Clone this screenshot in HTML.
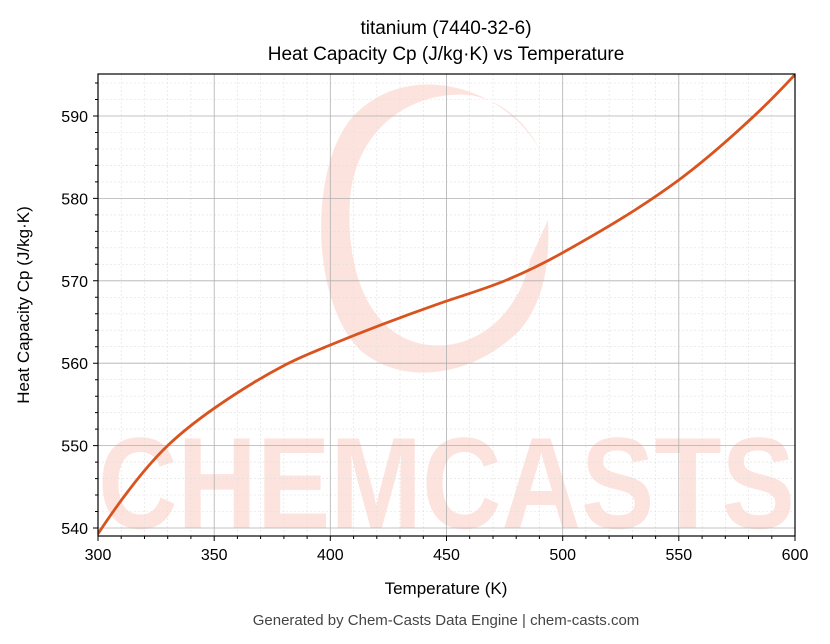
<!DOCTYPE html>
<html><head><meta charset="utf-8"><style>
html,body{margin:0;padding:0;background:#fff;}
svg{display:block;font-family:"Liberation Sans","DejaVu Sans",sans-serif;}
</style></head><body>
<svg width="830" height="644" viewBox="0 0 830 644" xmlns="http://www.w3.org/2000/svg">
<rect width="830" height="644" fill="#fff"/>
<defs><clipPath id="c"><rect x="98" y="74" width="697" height="462"/></clipPath></defs>
<g clip-path="url(#c)">
<g fill="#fde3de">
<path d="M540,150 C500,80 400,60 350,120 C310,170 310,300 360,350 C400,385 470,380 520,330 C545,300 550,260 548,220 L530,260 C520,310 480,350 430,345 C375,340 345,280 350,200 C355,130 410,90 470,95 C500,100 525,120 540,150 Z"/>
<text x="98" y="528" font-size="130" font-weight="bold" textLength="697" lengthAdjust="spacingAndGlyphs">CHEMCASTS</text>
</g>
<path stroke="#e0e0e0" stroke-width="0.6" stroke-dasharray="2,2" fill="none" d="
M121.2,74V536M144.5,74V536M167.7,74V536M190.9,74V536
M237.4,74V536M260.6,74V536M283.9,74V536M307.1,74V536
M353.6,74V536M376.8,74V536M400,74V536M423.3,74V536
M469.7,74V536M493,74V536M516.2,74V536M539.4,74V536
M585.9,74V536M609.1,74V536M632.4,74V536M655.6,74V536
M702.1,74V536M725.3,74V536M748.5,74V536M771.8,74V536
M98,511.5H795M98,495H795M98,478.6H795M98,462.1H795
M98,429.1H795M98,412.6H795M98,396.2H795M98,379.7H795
M98,346.7H795M98,330.2H795M98,313.8H795M98,297.3H795
M98,264.3H795M98,247.8H795M98,231.4H795M98,214.9H795
M98,181.9H795M98,165.4H795M98,149H795M98,132.5H795
M98,99.5H795M98,83H795"/>
<path stroke="#b0b0b0" stroke-width="0.8" fill="none" d="
M214.2,74V536M330.3,74V536M446.5,74V536M562.7,74V536M678.8,74V536
M98,528H795M98,445.6H795M98,363.2H795M98,280.8H795M98,198.4H795M98,116H795"/>
<path fill="none" stroke="#d9531e" stroke-width="2.8" stroke-linecap="round" d="M98.3,533.3
C121.6,498.3 145,467.2 168.3,445
C183.6,430.5 198.9,419 214.2,408.3
C237.8,391.8 261.4,377.3 285,365
C300.1,357.1 315.2,351.2 330.3,345
C366.9,330 403.4,316.1 440,303.3
C462.2,295.5 484.5,289.3 506.7,280
C525.4,272.2 544,263.2 562.7,252.7
C601.4,231 640.1,208.6 678.8,180
C703.6,161.6 728.5,139.8 753.3,116.7
C767.2,103.8 781.1,89.6 795,74.6"/>
</g>
<rect x="98" y="74" width="697" height="462" fill="none" stroke="#000" stroke-width="1.2"/>
<path stroke="#000" stroke-width="1" fill="none" d="
M98,536v5M214.2,536v5M330.3,536v5M446.5,536v5M562.7,536v5M678.8,536v5M795,536v5
M121.2,536v3M144.5,536v3M167.7,536v3M190.9,536v3M237.4,536v3M260.6,536v3M283.9,536v3M307.1,536v3
M353.6,536v3M376.8,536v3M400,536v3M423.3,536v3M469.7,536v3M493,536v3M516.2,536v3M539.4,536v3
M585.9,536v3M609.1,536v3M632.4,536v3M655.6,536v3M702.1,536v3M725.3,536v3M748.5,536v3M771.8,536v3
M93,528h5M93,445.6h5M93,363.2h5M93,280.8h5M93,198.4h5M93,116h5
M95,511.5h3M95,495h3M95,478.6h3M95,462.1h3M95,429.1h3M95,412.6h3M95,396.2h3M95,379.7h3
M95,346.7h3M95,330.2h3M95,313.8h3M95,297.3h3M95,264.3h3M95,247.8h3M95,231.4h3M95,214.9h3
M95,181.9h3M95,165.4h3M95,149h3M95,132.5h3M95,99.5h3M95,83h3"/>
<g font-size="16" fill="#000" text-anchor="middle">
<text x="98" y="560">300</text><text x="214.2" y="560">350</text><text x="330.3" y="560">400</text>
<text x="446.5" y="560">450</text><text x="562.7" y="560">500</text><text x="678.8" y="560">550</text><text x="795" y="560">600</text>
</g>
<g font-size="16" fill="#000" text-anchor="end">
<text x="88" y="534">540</text><text x="88" y="451.6">550</text><text x="88" y="369.2">560</text>
<text x="88" y="286.8">570</text><text x="88" y="204.4">580</text><text x="88" y="122">590</text>
</g>
<text x="446" y="34" text-anchor="middle" font-size="19">titanium (7440-32-6)</text>
<text x="446" y="60" text-anchor="middle" font-size="19">Heat Capacity Cp (J/kg·K) vs Temperature</text>
<text x="446" y="594" text-anchor="middle" font-size="17">Temperature (K)</text>
<text transform="translate(29,305) rotate(-90)" text-anchor="middle" font-size="17">Heat Capacity Cp (J/kg·K)</text>
<text x="446" y="625" text-anchor="middle" font-size="15" fill="#444">Generated by Chem-Casts Data Engine | chem-casts.com</text>
</svg>
</body></html>
